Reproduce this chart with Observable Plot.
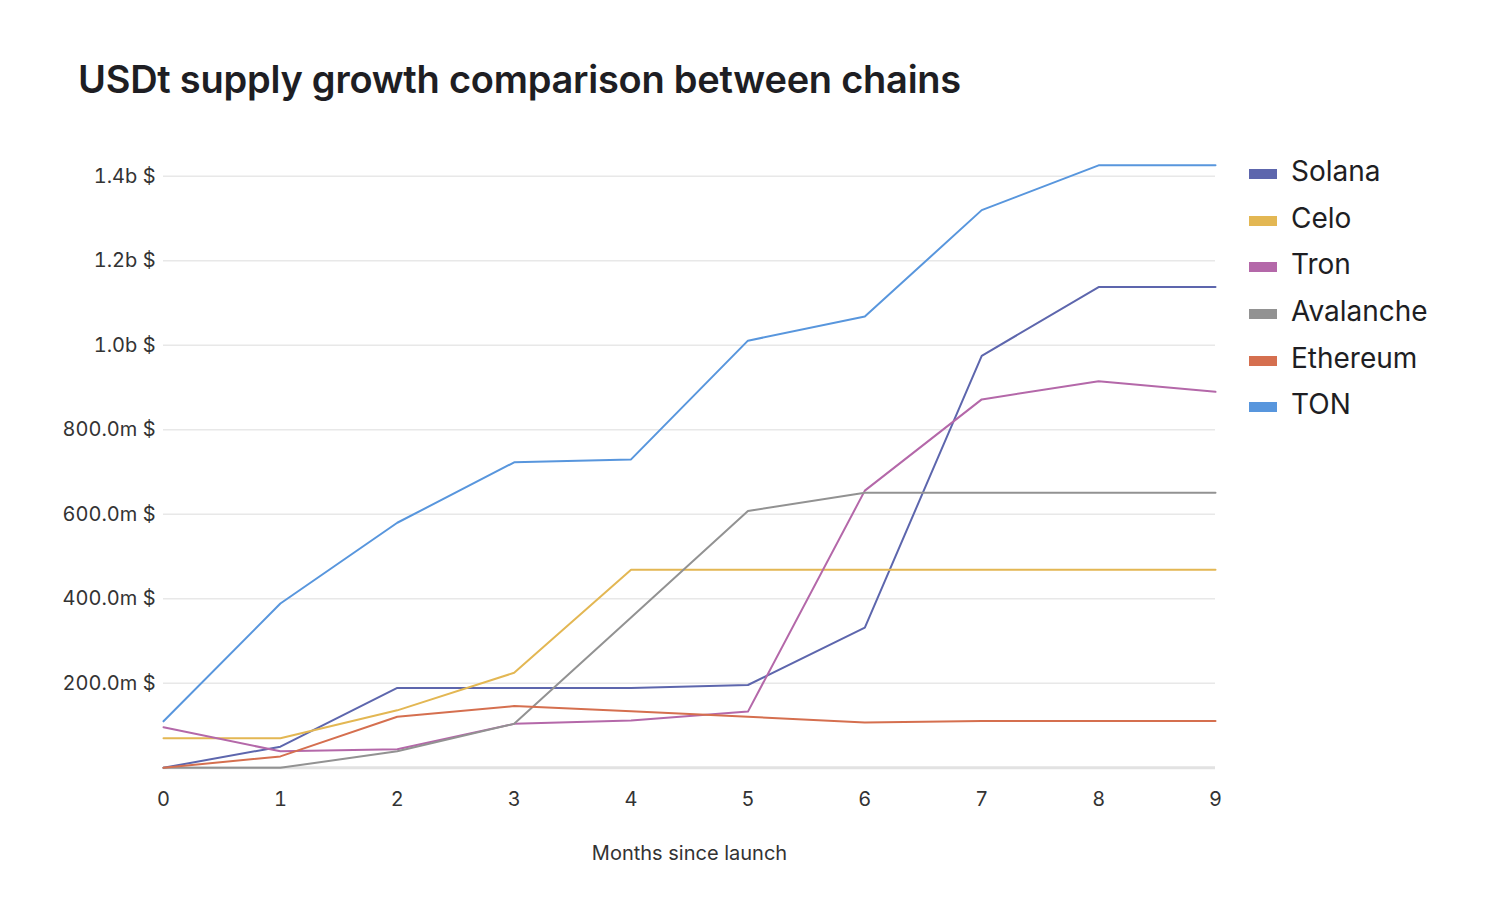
<!DOCTYPE html>
<html>
<head>
<meta charset="utf-8">
<script src="https://cdn.jsdelivr.net/npm/d3@7"></script>
<script src="https://cdn.jsdelivr.net/npm/@observablehq/plot@0.6"></script>
<style>
  html, body { margin: 0; padding: 0; background: #ffffff; }
  body { width: 1506px; height: 902px; overflow: hidden; font-family: Inter, "Noto Sans", sans-serif; }
  #head { position: relative; height: 120px; }
  #head h1 { position: absolute; left: 78px; top: 60px; margin: 0; font-size: 38px; line-height: 38px; font-weight: 600; color: #1e1e23; letter-spacing: -0.25px; white-space: nowrap; }
  #row { display: flex; align-items: flex-start; }
  #legend { padding-top: 31px; padding-left: 9px; }
  .item { display: flex; align-items: center; height: 46.6px; font-size: 28px; color: #1e1e23; white-space: nowrap; }
  .item span.t { position: relative; top: -3px; }
  .sw { width: 28px; height: 10px; margin-right: 14px; flex: none; }
</style>
</head>
<body>
<div id="head"><h1>USDt supply growth comparison between chains</h1></div>
<div id="row"><div id="chart"></div><div id="legend"></div></div>
<script>
const months = [0, 1, 2, 3, 4, 5, 6, 7, 8, 9];
const seriesNames = ["Solana", "Celo", "Tron", "Avalanche", "Ethereum", "TON"];
const seriesColors = ["#5d66ad", "#e3b753", "#b468a9", "#929292", "#d56f4f", "#5896dd"];
// values in millions of USD
const solana    = [0, 50, 189, 189, 189, 196, 332, 975, 1138, 1138];
const celo      = [70, 70, 136, 225, 469, 469, 469, 469, 469, 469];
const tron      = [96, 39, 44, 104, 112, 133, 656, 872, 915, 890];
const avalanche = [0, 0, 39, 104, 356, 608, 651, 651, 651, 651];
const ethereum  = [0, 27, 121, 146, 134, 121, 107, 111, 111, 111];
const ton       = [110, 389, 580, 723, 730, 1011, 1068, 1320, 1426, 1426];
const yTicks = [200, 400, 600, 800, 1000, 1200, 1400];
const xLabel = "Months since launch";

const valueArrays = [solana, celo, tron, avalanche, ethereum, ton];
const data = [];
seriesNames.forEach((name, i) => {
  months.forEach((m, j) => data.push({series: name, month: m, value: valueArrays[i][j]}));
});

const fmt = v => v >= 1000 ? (v / 1000).toFixed(1) + "b $" : v.toFixed(1) + "m $";

const chart = Plot.plot({
  width: 1240,
  height: 762,
  marginLeft: 163,
  marginRight: 25,
  marginTop: 34.7,
  marginBottom: 114.7,
  style: {fontFamily: "Inter, 'Noto Sans', sans-serif", fontSize: "20px", color: "#333", background: "#fff"},
  x: {domain: [0, 9]},
  y: {domain: [0, 1450]},
  color: {domain: seriesNames, range: seriesColors},
  marks: [
    Plot.ruleY(yTicks, {stroke: "#e8e8e8", strokeWidth: 1.5}),
    Plot.ruleY([0], {stroke: "#e2e2e2", strokeWidth: 3}),
    Plot.axisX(months, {tickSize: 0, tickPadding: 24, tickFormat: d => String(d), fontSize: 20, fill: "#333",
      label: xLabel, labelAnchor: "center", labelOffset: 92, labelArrow: "none"}),
    Plot.axisY(yTicks, {tickSize: 0, tickPadding: 8, tickFormat: fmt, fontSize: 20, fill: "#333", label: null}),
    Plot.lineY(data, {x: "month", y: "value", z: "series", stroke: "series", strokeWidth: 2})
  ]
});
document.getElementById("chart").appendChild(chart);

const legend = document.getElementById("legend");
seriesNames.forEach((name, i) => {
  const item = document.createElement("div");
  item.className = "item";
  const sw = document.createElement("span");
  sw.className = "sw";
  sw.style.background = seriesColors[i];
  const t = document.createElement("span");
  t.className = "t";
  t.textContent = name;
  item.appendChild(sw);
  item.appendChild(t);
  legend.appendChild(item);
});
</script>
</body>
</html>
